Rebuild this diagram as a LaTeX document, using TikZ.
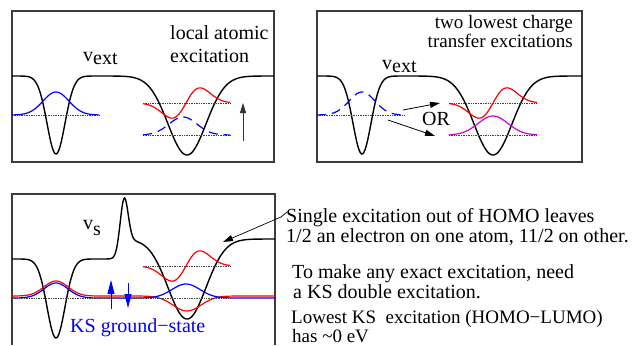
\documentclass[tikz,border=0pt]{standalone}
\usepackage{fontspec}
\setmainfont{Liberation Serif}
\usetikzlibrary{arrows.meta}
\definecolor{orbblue}{RGB}{0,0,255}
\definecolor{orbred}{RGB}{255,0,0}
\definecolor{orbmag}{RGB}{210,0,210}
\definecolor{framegray}{RGB}{60,60,60}
% bumps for the potentials and the orbitals
\pgfmathdeclarefunction{gss}{3}{\pgfmathparse{exp(-min(0.5*((#1-#2)/#3)^2,9))}}
\pgfmathdeclarefunction{pdip}{3}{\pgfmathparse{((#1-#2)/#3)*exp(-min(0.5*((#1-#2)/#3)^2,9))}}
\pgfmathdeclarefunction{stp}{3}{\pgfmathparse{1/(1+exp(-max(min((#1-#2)/#3,8),-8)))}}
\tikzset{
  frame/.style={draw=framegray,line width=1.1pt},
  pot/.style={line width=1.4pt},
  orb/.style={line width=1.2pt},
  level/.style={densely dotted,line width=.7pt,black!75},
  lbl/.style={anchor=base west,inner sep=0pt,font=\fontsize{20}{22}\selectfont},
  tightlbl/.style={lbl,font=\fontsize{19}{20}\selectfont},
  spin/.style={orbblue,line width=.9pt,-{Triangle[length=14pt,width=7pt]}},
}

\begin{document}
\begin{tikzpicture}[x=1pt,y=-1pt,>={Triangle[length=10pt,width=6pt]}]
\path[use as bounding box] (0,0) rectangle (636,345);
% panel 1: local atomic excitation
\draw[frame] (12,11) rectangle (274,162);
\draw[pot] plot[domain=12:274,samples=220] (\x,{76+78*gss(\x,56,9)+79*gss(\x,187,19)});
\draw[level] (12,115) -- (99,115);
\draw[orb,orbblue] plot[domain=12:99,samples=60] (\x,{115-23*gss(\x,56,13)});
\draw[level] (143,103) -- (230,103);
\draw[level] (143,135) -- (230,135);
\draw[orb,orbred] plot[domain=143:230,samples=60] (\x,{103-25*pdip(\x,186,14)});
\draw[orb,orbblue,dash pattern=on 9pt off 6pt] plot[domain=143:230,samples=60] (\x,{135-18*gss(\x,183,14)});
\coordinate (up1a) at (243,141);
\coordinate (up1b) at (243,103);
\draw[->,line width=.8pt,black!80] (up1a) -- (up1b);
\node[lbl] (vext1) at (83,61) {v\lower3pt\hbox{ext}};
\node[lbl] (loc1) at (170,40) {local atomic};
\node[lbl] (loc2) at (170,63) {excitation};
% panel 2: charge transfer excitations
\begin{scope}[shift={(305,0)}]
\draw[frame] (12,11) rectangle (277,162);
\draw[pot] plot[domain=12:277,samples=220] (\x,{76+78*gss(\x,57,9)+79*gss(\x,188,19)});
\draw[level] (12,115) -- (100,115);
\draw[orb,orbblue,dash pattern=on 9pt off 6pt] plot[domain=12:100,samples=60] (\x,{115-23*gss(\x,57,13)});
\draw[level] (144,103) -- (232,103);
\draw[level] (144,135) -- (232,135);
\draw[orb,orbred] plot[domain=144:232,samples=60] (\x,{103-25*pdip(\x,188,14)});
\draw[orb,orbmag] plot[domain=144:232,samples=60] (\x,{135-19*gss(\x,188,15)});
\coordinate (ct1a) at (98,110);
\coordinate (ct1b) at (135,103);
\coordinate (ct2a) at (83,120);
\coordinate (ct2b) at (130,136);
\draw[->,line width=.8pt] (ct1a) -- (ct1b);
\draw[->,line width=.8pt] (ct2a) -- (ct2b);
\node[lbl] (or2) at (117,125) {OR};
\node[lbl] (vext2) at (77,69) {v\lower3pt\hbox{ext}};
\node[tightlbl,anchor=base east] (ct1) at (268,29) {two lowest charge};
\node[tightlbl,anchor=base east] (ct2) at (268,48) {transfer excitations};
\end{scope}
% panel 3: KS potential
\draw[frame] (12,345) -- (12,194) -- (275,194) -- (275,345);
\draw[pot] plot[domain=12:275,samples=300] (\x,{259-20*stp(\x,124,3)+79*gss(\x,56,9)+80*gss(\x,187,19)-51*gss(\x,124,4)});
\draw[level] (143,266) -- (230,266);
\draw[orb,orbred] plot[domain=143:230,samples=60] (\x,{266-25*pdip(\x,186,14)});
\draw[orb,orbred] plot[domain=12:275,samples=150] (\x,{296-15*gss(\x,56,12)+15*gss(\x,187,14)});
\draw[orb,orbblue] plot[domain=12:275,samples=150] (\x,{298-15*gss(\x,56,12)-14*gss(\x,186,14)});
\draw[level] (12,298) -- (230,298);
\coordinate (spinup1) at (111,309);
\coordinate (spinup2) at (111,280);
\coordinate (spindn1) at (128,283);
\coordinate (spindn2) at (128,308);
\draw[spin] (spinup1) -- (spinup2);
\draw[spin] (spindn1) -- (spindn2);
\node[lbl] (vs3) at (83,229) {v\lower6pt\hbox{s}};
\node[lbl,text=orbblue] (gs3) at (70,332) {KS ground−state};
% notes on the right
\coordinate (notetail) at (287,212);
\coordinate (notebend) at (281,217);
\coordinate (notetip) at (223,242);
\draw[->,line width=.7pt] (notetail) -- (notebend) -- (notetip);
\node[lbl] (note1) at (286,222) {Single excitation out of HOMO leaves};
\node[lbl] (note2) at (286,242) {1/2 an electron on one atom, 11/2 on other.};
\node[lbl] (note3) at (292,278) {To make any exact excitation, need};
\node[lbl] (note4) at (293,298) {a KS double excitation.};
\node[tightlbl] (note5) at (291,323) {Lowest KS\ \ excitation (HOMO−LUMO)};
\node[tightlbl] (note6) at (292,342) {has \textasciitilde0 eV};
\end{tikzpicture}
\end{document}
